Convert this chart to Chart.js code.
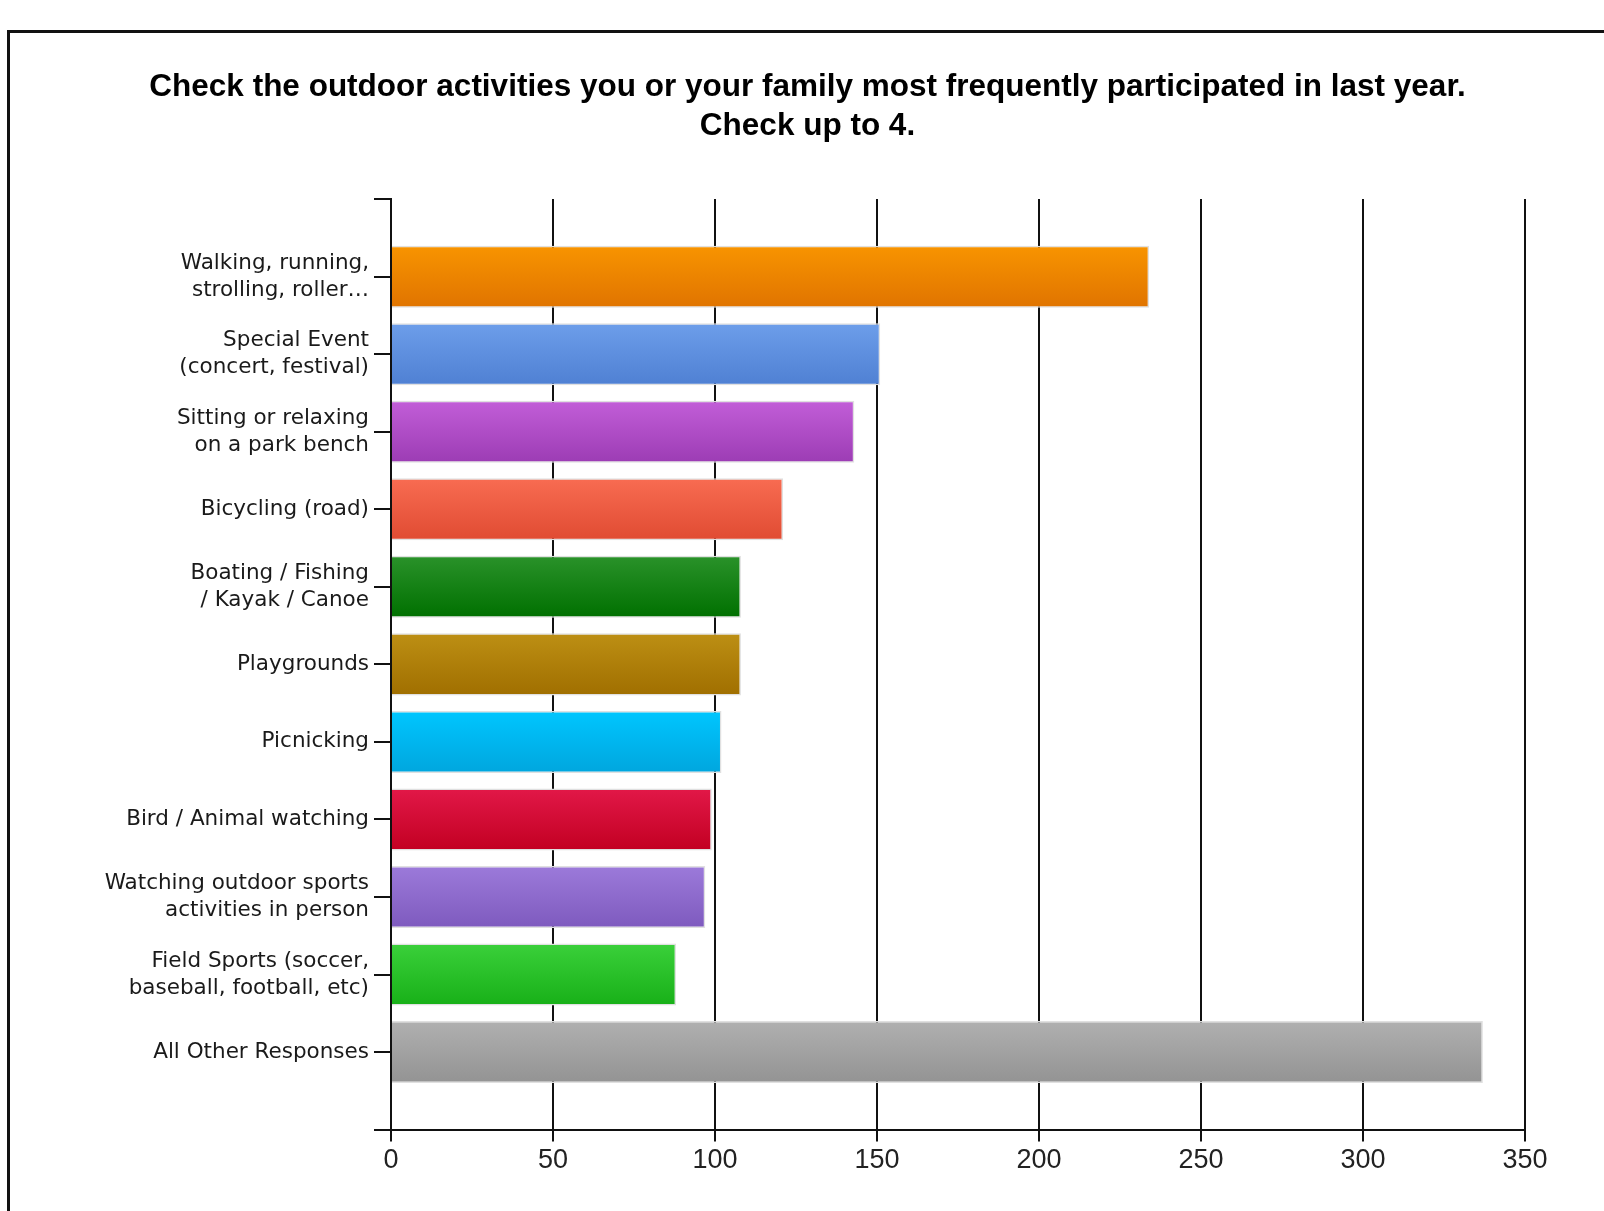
<!DOCTYPE html>
<html>
<head>
<meta charset="utf-8">
<title>Outdoor activities</title>
<script src="https://cdn.jsdelivr.net/npm/chart.js@4.4.1/dist/chart.umd.min.js"></script>
<style>
    html, body { margin: 0; padding: 0; background: #fff; overflow: hidden; }
    #wrap { position: relative; width: 1604px; height: 1211px; }
</style>
</head>
<body>
<div id="wrap"><canvas id="activityChart"></canvas></div>
<script>
// Survey data
const activityLabels = [
    ['Walking, running,', 'strolling, roller…'],
    ['Special Event', '(concert, festival)'],
    ['Sitting or relaxing', 'on a park bench'],
    'Bicycling (road)',
    ['Boating / Fishing', '/ Kayak / Canoe'],
    'Playgrounds',
    'Picnicking',
    'Bird / Animal watching',
    ['Watching outdoor sports', 'activities in person'],
    ['Field Sports (soccer,', 'baseball, football, etc)'],
    'All Other Responses'
];
const responseCounts = [234, 151, 143, 121, 108, 108, 102, 99, 97, 88, 337];
const xTickValues = [0, 50, 100, 150, 200, 250, 300, 350];

// top / bottom colour of each bar's gradient
const barTopColors = ['#f89400', '#6d9eea', '#c25ed8', '#f86c52', '#2a922a', '#bd8f14', '#00c6ff', '#e21848', '#9c7ada', '#3ad03a', '#b0b0b0'];
const barBottomColors = ['#e07400', '#4f80d3', '#9c3cb4', '#e04b32', '#007000', '#a06f00', '#00a6de', '#c20022', '#7e5abe', '#18b018', '#939393'];

const BAR_FRACTION = 0.8;

function barGradient(context) {
    const i = context.dataIndex;
    const chart = context.chart;
    if (!chart.chartArea || !chart.scales.y) return barTopColors[i];
    const yScale = chart.scales.y;
    const center = yScale.getPixelForValue(i);
    const slot = Math.abs(yScale.getPixelForValue(1) - yScale.getPixelForValue(0));
    const half = slot * BAR_FRACTION / 2;
    const g = chart.ctx.createLinearGradient(0, center - half, 0, center + half);
    g.addColorStop(0, barTopColors[i]);
    g.addColorStop(1, barBottomColors[i]);
    return g;
}

// outer black frame, runs off the right and bottom of the picture
const framePlugin = {
    id: 'frame',
    afterDraw(chart) {
        const ctx = chart.ctx;
        ctx.save();
        ctx.strokeStyle = '#111';
        ctx.lineWidth = 3;
        ctx.strokeRect(8.5, 31.5, 3000, 3000);
        ctx.restore();
    }
};

const ctx = document.getElementById('activityChart');

new Chart(ctx, {
    type: 'bar',
    data: {
        datasets: [{
            data: responseCounts.map((v, i) => ({ x: v, y: i })),
            backgroundColor: barGradient,
            borderColor: '#e0e0e0',
            borderWidth: 1.5,
            categoryPercentage: 1,
            barPercentage: BAR_FRACTION
        }]
    },
    plugins: [framePlugin],
    options: {
        indexAxis: 'y',
        responsive: true,
        maintainAspectRatio: false,
        animation: false,
        layout: {
            padding: { left: 90, right: 79, top: 28, bottom: 31 }
        },
        plugins: {
            legend: { display: false },
            tooltip: { enabled: false },
            title: {
                display: true,
                text: ['Check the outdoor activities you or your family most frequently participated in last year.', 'Check up to 4.'],
                color: '#000',
                font: {
                    family: "'Liberation Sans', Arial, sans-serif",
                    size: 31.5,
                    weight: 'bold',
                    lineHeight: 1.24
                },
                padding: { top: 40, bottom: 53 }
            }
        },
        scales: {
            x: {
                type: 'linear',
                min: 0,
                max: 350,
                afterBuildTicks: function (scale) {
                    scale.ticks = xTickValues.map(v => ({ value: v }));
                },
                grid: {
                    color: '#111',
                    lineWidth: 2,
                    tickLength: 12
                },
                border: { color: '#111', width: 2 },
                ticks: {
                    color: '#222',
                    padding: 3,
                    maxRotation: 0,
                    font: {
                        family: "'Liberation Sans Narrow', 'Liberation Sans', Arial, sans-serif",
                        size: 27
                    }
                }
            },
            y: {
                type: 'linear',
                min: -1,
                max: 11,
                offset: false,
                reverse: true,
                afterBuildTicks: function (scale) {
                    const t = [];
                    for (let i = -1; i <= activityLabels.length; i++) t.push({ value: i });
                    scale.ticks = t;
                },
                afterFit: function (scale) {
                    scale.width = 301;
                },
                grid: {
                    drawOnChartArea: false,
                    offset: false,
                    color: '#111',
                    lineWidth: 2,
                    tickLength: 17
                },
                border: { color: '#111', width: 2 },
                ticks: {
                    color: '#1a1a1a',
                    padding: 5,
                    autoSkip: false,
                    font: {
                        family: "'DejaVu Sans', sans-serif",
                        size: 21.5,
                        lineHeight: 1.25
                    },
                    callback: function (value) {
                        return activityLabels[value] !== undefined ? activityLabels[value] : '';
                    }
                }
            }
        }
    }
});
</script>
</body>
</html>
